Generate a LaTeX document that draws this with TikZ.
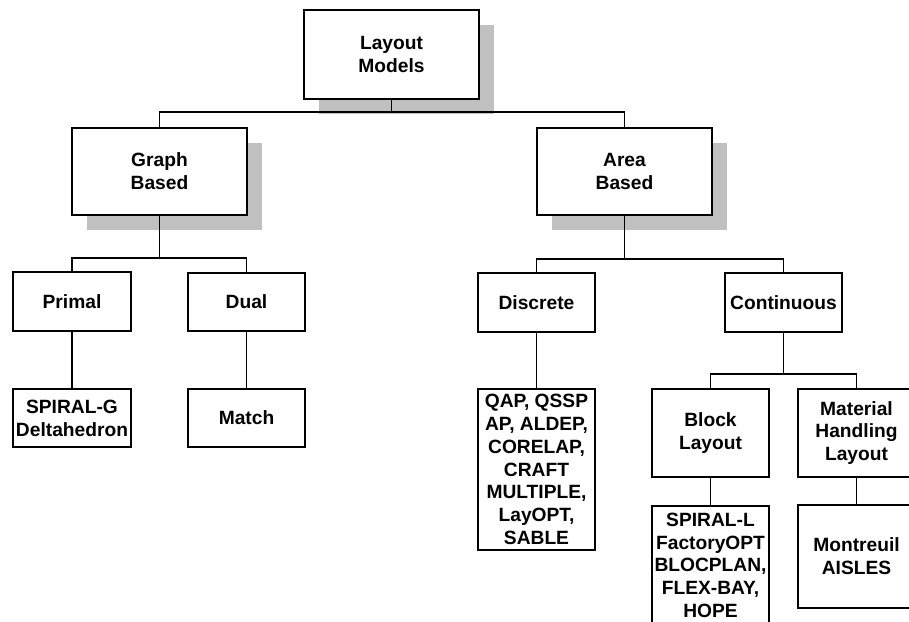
\documentclass[tikz,border=0pt]{standalone}
\usepackage{fontspec}
\setmainfont{Liberation Sans}
\usetikzlibrary{shadows,calc}
\definecolor{shadowgray}{HTML}{C0C0C0}
\tikzset{
  box/.style={draw=black, line width=1.8pt, fill=white, rectangle, inner sep=0pt,
    align=center, minimum width=117pt,
    font=\fontsize{19.2pt}{22.8pt}\selectfont\bfseries},
  shadowed/.style={drop shadow={shadow xshift=15pt, shadow yshift=-15pt, fill=shadowgray, opacity=1}},
  conn/.style={draw=black, line width=1.8pt}
}
\begin{document}
\begin{tikzpicture}[x=1pt,y=-1pt]
\clip (0,0) rectangle (909,621);
\fill[white] (0,0) rectangle (909,621);
% level 0 and 1
\node[box, shadowed, minimum width=175pt, minimum height=89pt] (lm) at (391.5,54.5) {Layout\\Models};
\node[box, shadowed, minimum width=175pt, minimum height=87pt] (gb) at (159.5,171.5) {Graph\\Based};
\node[box, shadowed, minimum width=175pt, minimum height=87pt] (ab) at (624.5,171.5) {Area\\Based};
% level 2
\node[box, minimum width=118pt, minimum height=59pt] (pr) at (72,301.5) {Primal};
\node[box, minimum height=58pt] (du) at (246.5,302) {Dual};
\node[box, minimum height=59pt] (di) at (536.5,302.5) {Discrete};
\node[box, minimum height=59pt] (co) at (783.5,302.5) {Continuous};
% level 3
\node[box, minimum width=118pt, minimum height=58pt] (sg) at (72,418) {SPIRAL-G\\Deltahedron};
\node[box, minimum height=58pt] (ma) at (246.5,418) {Match};
\node[box, minimum height=161pt] (qap) at (536.5,469.5) {QAP, QSSP\\AP, ALDEP,\\CORELAP,\\CRAFT\\MULTIPLE,\\LayOPT,\\SABLE};
\node[box, minimum height=88pt] (bl) at (710.5,433) {Block\\Layout};
\node[box, minimum height=88pt] (mh) at (856.5,433) {Material\\Handling\\Layout};
% level 4
\node[box, anchor=north, inner ysep=7pt, text depth=125pt] (sl) at (710.5,505) {SPIRAL-L\\FactoryOPT\\BLOCPLAN,\\FLEX-BAY,\\HOPE};
\node[box, minimum height=103pt] (mo) at (856.5,556.5) {Montreuil\\AISLES};
% junctions
\coordinate (j1) at (391.5,112);
\coordinate (j2) at (159.5,258);
\coordinate (j3) at (624.5,259);
\coordinate (j4) at (783.5,374);
% connectors
\draw[conn] (lm.south) -- (j1);
\draw[conn] (gb.north) |- (j1) -| (ab.north);
\draw[conn] (gb.south) -- (j2);
\draw[conn] (pr.north) |- (j2) -| (du.north);
\draw[conn] (ab.south) -- (j3);
\draw[conn] (di.north) |- (j3) -| (co.north);
\draw[conn] (co.south) -- (j4);
\draw[conn] (bl.north) |- (j4) -| (mh.north);
\draw[conn] (pr.south) -- (sg.north);
\draw[conn] (du.south) -- (ma.north);
\draw[conn] (di.south) -- (qap.north);
\draw[conn] (bl.south) -- (sl.north);
\draw[conn] (mh.south) -- (mo.north);
\end{tikzpicture}
\end{document}
